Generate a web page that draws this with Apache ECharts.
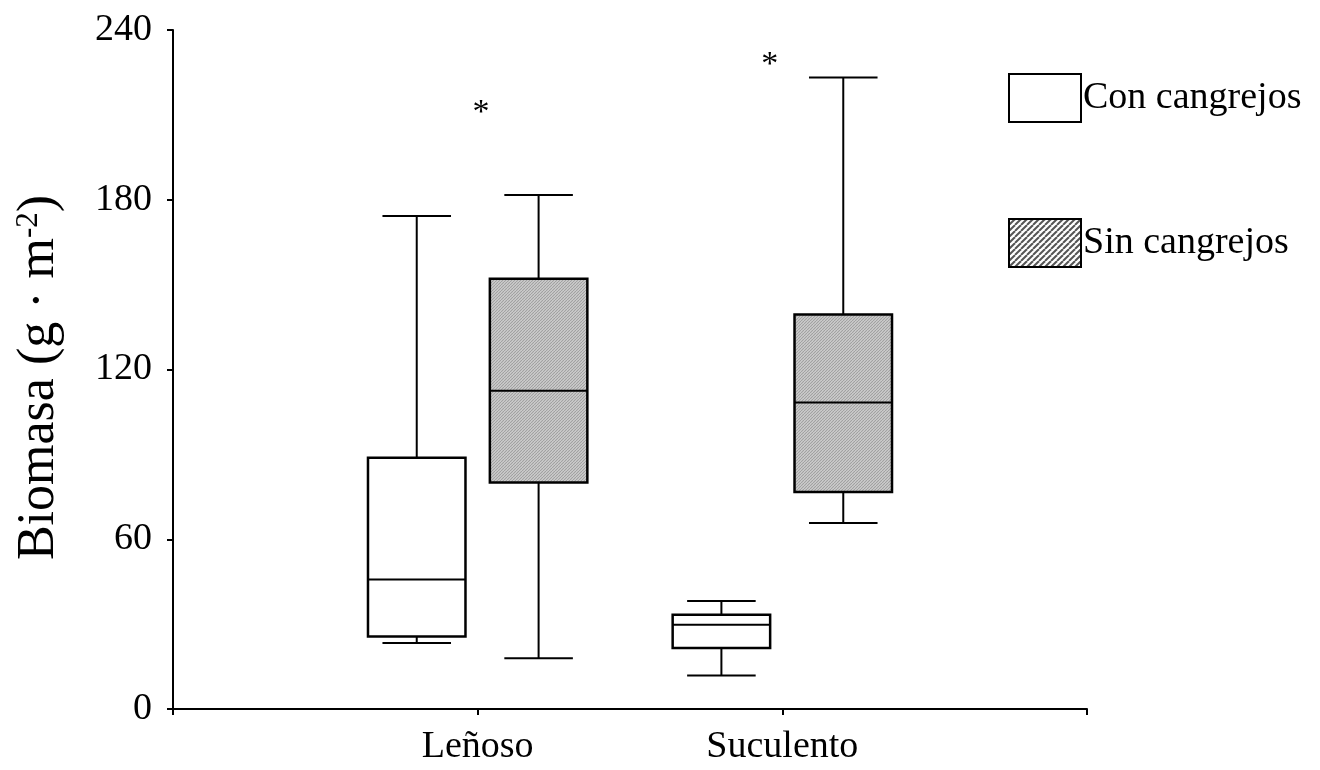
<!DOCTYPE html>
<html><head><meta charset="utf-8">
<script src="https://cdn.jsdelivr.net/npm/echarts@6/dist/echarts.min.js"></script>
<style>html,body{margin:0;padding:0;background:#fff}#chart{width:1320px;height:770px}</style>
</head><body><div id="chart"></div>
<script>
// ---- data ----
const categories = ['Leñoso', 'Suculento'];
const seriesNames = ['Con cangrejos', 'Sin cangrejos'];
// each row: [low whisker, Q1, median, Q3, high whisker]
const conCangrejos = [
  [23.3, 25.6, 45.8, 88.8, 174.3],
  [11.8, 21.6, 29.8, 33.3, 38.2]
];
const sinCangrejos = [
  [17.9, 80.1, 112.5, 152.1, 181.7],
  [65.7, 76.7, 108.3, 139.4, 223.2]
];
const asteriskValues = [212.6, 229.6];
const yTickValues = [0, 60, 120, 180, 240];

// ---- styles ----
const FONT = 'Liberation Serif';
function makePattern(period, lineW, bg, fg) {
  const c = document.createElement('canvas');
  c.width = period; c.height = period;
  const g = c.getContext('2d');
  g.fillStyle = bg; g.fillRect(0, 0, period, period);
  g.strokeStyle = fg; g.lineWidth = lineW;
  for (let k = -1; k <= 1; k++) {
    g.beginPath();
    g.moveTo(k * period, period);
    g.lineTo(k * period + period, 0);
    g.stroke();
  }
  return { image: c, repeat: 'repeat' };
}
const boxHatch = makePattern(3, 1.2, '#d4d4d4', '#a0a0a0');
const legendHatch = makePattern(6, 2, '#ffffff', '#555555');

const xCats = [''].concat(categories, ['']);

function boxRender(offsetFrac, fill) {
  return function (params, api) {
    const cat = api.value(0);
    const band = api.size([1, 0])[0];
    const cx = api.coord([cat, 0])[0] + offsetFrac * band;
    const y = i => api.coord([cat, api.value(i)])[1];
    const lo = y(1), q1 = y(2), md = y(3), q3 = y(4), hi = y(5);
    const bw = 0.32 * band, cw = 0.225 * band;
    const ls = { stroke: '#000', lineWidth: 2 };
    return {
      type: 'group',
      children: [
        { type: 'line', shape: { x1: cx, y1: hi, x2: cx, y2: q3 }, style: ls },
        { type: 'line', shape: { x1: cx, y1: q1, x2: cx, y2: lo }, style: ls },
        { type: 'line', shape: { x1: cx - cw / 2, y1: hi, x2: cx + cw / 2, y2: hi }, style: ls },
        { type: 'line', shape: { x1: cx - cw / 2, y1: lo, x2: cx + cw / 2, y2: lo }, style: ls },
        { type: 'rect', shape: { x: cx - bw / 2, y: q3, width: bw, height: q1 - q3 },
          style: { fill: fill, stroke: '#000', lineWidth: 2.5 } },
        { type: 'line', shape: { x1: cx - bw / 2, y1: md, x2: cx + bw / 2, y2: md }, style: ls }
      ]
    };
  };
}

const asteriskOffsets = [0.011, -0.041];

const chart = echarts.init(document.getElementById('chart'), null, { renderer: 'canvas' });
chart.setOption({
  animation: false,
  backgroundColor: '#fff',
  grid: { left: 173, right: 233, top: 30, bottom: 61 },
  legend: {
    orient: 'vertical', left: 1008, top: 73, padding: 0,
    itemWidth: 72, itemHeight: 48, itemGap: 95,
    selectedMode: false,
    textStyle: { fontFamily: FONT, fontSize: 38, color: '#000', padding: [8, 0, 0, -3] },
    data: [
      { name: seriesNames[0], icon: 'rect', itemStyle: { color: '#fff', borderColor: '#000', borderWidth: 2 } },
      { name: seriesNames[1], icon: 'rect', itemStyle: { color: legendHatch, borderColor: '#000', borderWidth: 2 } }
    ]
  },
  xAxis: {
    type: 'category', data: xCats, boundaryGap: false,
    axisLine: { lineStyle: { color: '#000', width: 2 } },
    axisTick: { show: true, length: 6, lineStyle: { color: '#000', width: 2 } },
    axisLabel: { fontFamily: FONT, fontSize: 38, color: '#000', margin: 19, interval: 0 },
    splitLine: { show: false }
  },
  yAxis: {
    type: 'value', min: yTickValues[0], max: yTickValues[yTickValues.length - 1],
    interval: yTickValues[1] - yTickValues[0],
    axisLine: { show: true, lineStyle: { color: '#000', width: 2 } },
    axisTick: { show: true, length: 6, lineStyle: { color: '#000', width: 2 } },
    axisLabel: { fontFamily: FONT, fontSize: 38, color: '#000', margin: 21, padding: [4, 0, 0, 0] },
    splitLine: { show: false },
    name: '{m|Biomasa (g · m}{s|-2}{m|)}',
    nameLocation: 'middle', nameGap: 108,
    nameTextStyle: {
      fontFamily: FONT, fontSize: 52, color: '#000', padding: [0, 16, 0, 0],
      rich: {
        m: { fontFamily: FONT, fontSize: 52, color: '#000' },
        s: { fontFamily: FONT, fontSize: 31, color: '#000', verticalAlign: 'top', padding: [0, 0, 16, 0] }
      }
    }
  },
  series: [
    {
      name: seriesNames[0], type: 'custom',
      renderItem: boxRender(-0.2, '#fff'),
      encode: { x: 0, y: [1, 2, 3, 4, 5] },
      itemStyle: { color: '#fff', borderColor: '#000' },
      data: categories.map((c, i) => [c].concat(conCangrejos[i]))
    },
    {
      name: seriesNames[1], type: 'custom',
      renderItem: boxRender(0.2, boxHatch),
      encode: { x: 0, y: [1, 2, 3, 4, 5] },
      itemStyle: { color: '#bbb', borderColor: '#000' },
      data: categories.map((c, i) => [c].concat(sinCangrejos[i]))
    },
    {
      name: 'asterisks', type: 'custom',
      encode: { x: 0, y: 1 },
      renderItem: function (params, api) {
        const cat = api.value(0);
        const band = api.size([1, 0])[0];
        const p = api.coord([cat, api.value(1)]);
        return {
          type: 'text',
          style: {
            text: '*', x: p[0] + asteriskOffsets[params.dataIndex] * band, y: p[1] + 6,
            align: 'center', verticalAlign: 'middle',
            font: '34px "' + FONT + '"', fill: '#000'
          }
        };
      },
      data: categories.map((c, i) => [c, asteriskValues[i]])
    }
  ]
});
</script>
</body></html>
